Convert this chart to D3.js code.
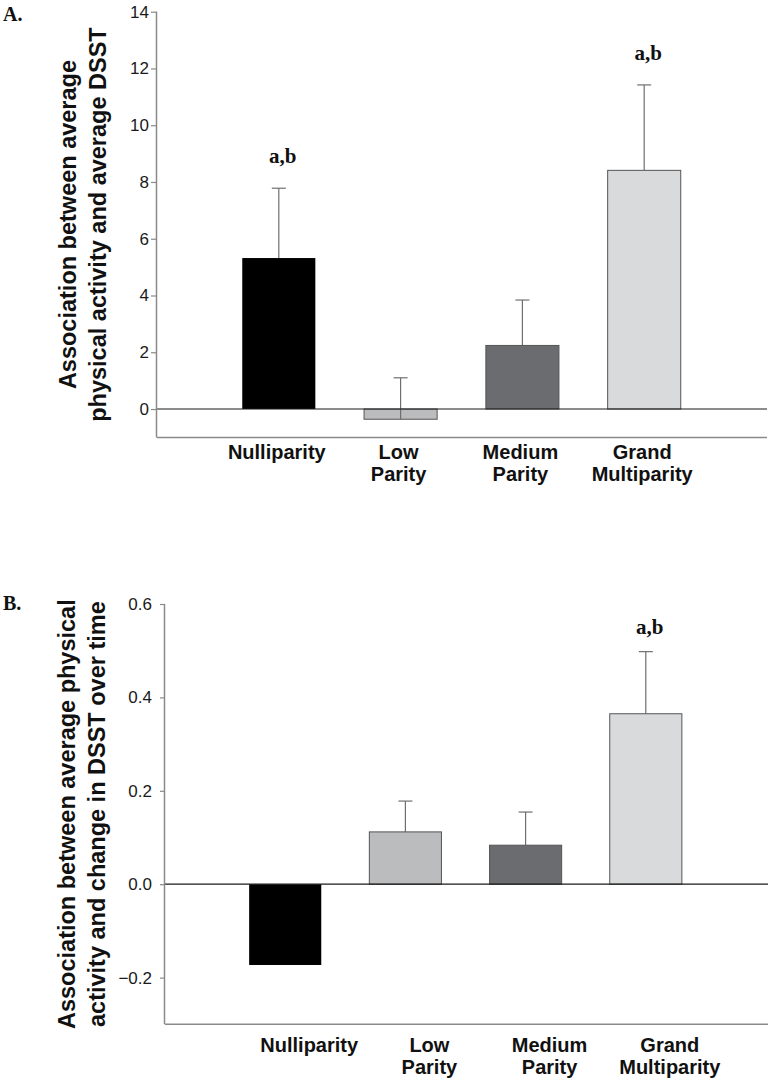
<!DOCTYPE html>
<html>
<head>
<meta charset="utf-8">
<script src="https://cdn.jsdelivr.net/npm/d3@7"></script>
<style>
  html, body { margin: 0; padding: 0; background: #fff; }
  svg { display: block; }
</style>
</head>
<body>
<svg id="chart" width="772" height="1082"></svg>
<script>
// ---- data ----
const categories = ["Nulliparity", "Low Parity", "Medium Parity", "Grand Multiparity"];
const categoryLines = [["Nulliparity"], ["Low", "Parity"], ["Medium", "Parity"], ["Grand", "Multiparity"]];
const colors = ["#000000", "#bbbcbe", "#6b6c70", "#d9dadc"];

// Panel A: association between average physical activity and average DSST
const valuesA = [5.32, -0.36, 2.24, 8.41];
const errorsA = [2.46, 1.46, 1.60, 3.01];
const sigA = ["a,b", "", "", "a,b"];
const ticksA = [0, 2, 4, 6, 8, 10, 12, 14];
const domainA = [-1, 14];
const titleA = ["Association between average", "physical activity and average DSST"];

// Panel B: association between average physical activity and change in DSST over time
const valuesB = [-0.173, 0.112, 0.0835, 0.365];
const errorsB = [null, 0.066, 0.071, 0.133];
const sigB = ["", "", "", "a,b"];
const ticksB = [-0.2, 0.0, 0.2, 0.4, 0.6];
const domainB = [-0.3, 0.6];
const titleB = ["Association between average physical", "activity and change in DSST over time"];

const svg = d3.select("#chart");

function panel(cfg) {
  const g = svg.append("g");
  const x = d3.scaleBand().domain(categories).range([cfg.left, cfg.right])
    .paddingInner(0.4).paddingOuter(0.7);
  const y = d3.scaleLinear().domain(cfg.domain).range([cfg.bottom, cfg.top]);

  const data = categories.map((c, i) => ({c, v: cfg.values[i], e: cfg.errors[i], s: cfg.sig[i], col: colors[i], lines: categoryLines[i]}));

  // error bars (upward)
  const eb = g.append("g");
  data.filter(d => d.e != null).forEach(d => {
    const cx = x(d.c) + x.bandwidth() / 2;
    eb.append("line").attr("x1", cx).attr("x2", cx)
      .attr("y1", y(d.v)).attr("y2", y(d.v + d.e))
      .attr("stroke", "#6f6f6f").attr("stroke-width", 1.2);
    eb.append("line").attr("x1", cx - 7).attr("x2", cx + 7)
      .attr("y1", y(d.v + d.e)).attr("y2", y(d.v + d.e))
      .attr("stroke", "#6f6f6f").attr("stroke-width", 1.2);
  });

  g.append("g").selectAll("rect").data(data).join("rect")
    .attr("x", d => x(d.c))
    .attr("width", x.bandwidth())
    .attr("y", d => y(Math.max(0, d.v)))
    .attr("height", d => Math.abs(y(d.v) - y(0)))
    .attr("fill", d => d.col)
    .attr("stroke", d => d.col === "#000000" ? "none" : "#555")
    .attr("stroke-width", 1);

  // error line through negative bars (visible inside light bars)
  data.filter(d => d.e != null && d.v < 0).forEach(d => {
    const cx = x(d.c) + x.bandwidth() / 2;
    g.append("line").attr("x1", cx).attr("x2", cx)
      .attr("y1", y(d.v)).attr("y2", y(0))
      .attr("stroke", "#6f6f6f").attr("stroke-width", 1.2);
  });

  // significance labels
  g.append("g").selectAll("text").data(data.filter(d => d.s)).join("text")
    .attr("x", d => x(d.c) + x.bandwidth() / 2 + 4)
    .attr("y", d => y(d.v + d.e) - cfg.sigGap)
    .attr("text-anchor", "middle")
    .attr("font-family", "'Liberation Serif', 'Times New Roman', serif")
    .attr("font-weight", "bold").attr("font-size", 21)
    .attr("fill", "#111")
    .text(d => d.s);

  // zero line
  g.append("line").attr("x1", cfg.left).attr("x2", cfg.lineEnd)
    .attr("y1", y(0)).attr("y2", y(0))
    .attr("stroke", "#1a1a1a").attr("stroke-width", 1.2);

  // bottom frame line
  g.append("line").attr("x1", cfg.left).attr("x2", cfg.lineEnd)
    .attr("y1", cfg.bottom).attr("y2", cfg.bottom)
    .attr("stroke", "#8a8a8a").attr("stroke-width", 1.5);

  // y axis
  const ax = g.append("g").attr("transform", `translate(${cfg.left},0)`)
    .call(d3.axisLeft(y).tickValues(cfg.ticks).tickSize(cfg.tickSize).tickPadding(cfg.tickPad)
      .tickFormat(cfg.fmt));
  ax.attr("font-size", null).attr("font-family", null);
  ax.select(".domain").attr("d", `M-0.5,${y(cfg.ticks[cfg.ticks.length - 1])}V${cfg.bottom}`)
    .attr("stroke", "#8a8a8a").attr("stroke-width", 1.5);
  ax.selectAll(".tick line").attr("stroke", "#8a8a8a").attr("stroke-width", 1.2);
  ax.selectAll(".tick text")
    .attr("font-family", "Arial, 'Liberation Sans', sans-serif")
    .style("font-size", "17px").attr("fill", "#1a1a1a");

  // category labels
  const cl = g.append("g");
  data.forEach(d => {
    const cx = x(d.c) + x.bandwidth() / 2 + cfg.labelShift;
    d.lines.forEach((ln, k) => {
      cl.append("text").attr("x", cx).attr("y", cfg.labelY + k * 22)
        .attr("text-anchor", "middle")
        .attr("font-family", "Arial, 'Liberation Sans', sans-serif")
        .attr("font-weight", "bold").attr("font-size", 20)
        .attr("fill", "#111").text(ln);
    });
  });

  // y title
  const cy = (cfg.top + cfg.bottom) / 2;
  cfg.title.forEach((t, k) => {
    g.append("text")
      .attr("transform", `translate(${cfg.titleX + k * 30},${cy}) rotate(-90)`)
      .attr("text-anchor", "middle")
      .attr("font-family", "Arial, 'Liberation Sans', sans-serif")
      .attr("font-weight", "bold").attr("font-size", 23.5)
      .attr("fill", "#111").text(t);
  });

  // panel letter
  g.append("text").attr("x", 3).attr("y", cfg.letterY)
    .attr("font-family", "'Liberation Serif', 'Times New Roman', serif")
    .attr("font-weight", "bold").attr("font-size", 20)
    .attr("fill", "#111").text(cfg.letter);
}

panel({
  left: 157, right: 766, lineEnd: 767, top: 11.7, bottom: 437.4,
  domain: domainA, values: valuesA, errors: errorsA, sig: sigA, ticks: ticksA,
  fmt: d3.format("d"), tickSize: 6, tickPad: 2, sigGap: 25,
  labelY: 459, labelShift: -2, title: titleA, titleX: 76, letter: "A.", letterY: 21
});

panel({
  left: 165, right: 766, lineEnd: 768, top: 604, bottom: 1024.3,
  domain: domainB, values: valuesB, errors: errorsB, sig: sigB, ticks: ticksB,
  fmt: d3.format(".1f"), tickSize: 5, tickPad: 8, sigGap: 18,
  labelY: 1052, labelShift: 24, title: titleB, titleX: 75, letter: "B.", letterY: 610
});
</script>
</body>
</html>
